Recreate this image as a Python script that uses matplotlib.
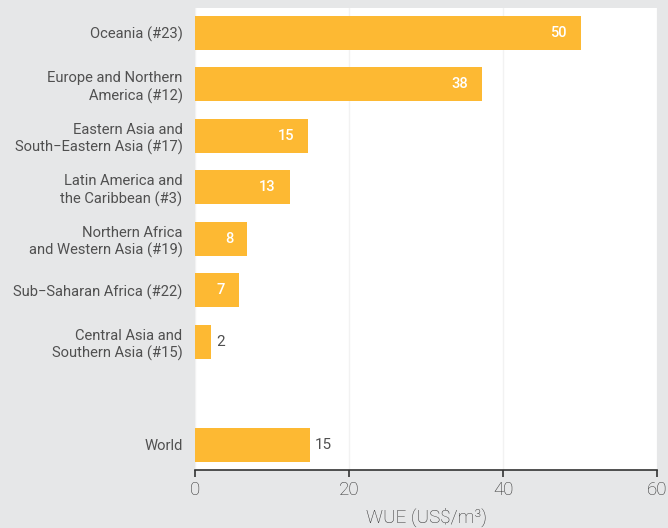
import numpy as np
import matplotlib.pyplot as plt

plt.rcParams['font.family'] = ['Roboto', 'DejaVu Sans']

regions = ['Oceania (#23)', 'Europe and Northern\nAmerica (#12)',
           'Eastern Asia and\nSouth\u2212Eastern Asia (#17)',
           'Latin America and\nthe Caribbean (#3)',
           'Northern Africa\nand Western Asia (#19)',
           'Sub\u2212Saharan Africa (#22)',
           'Central Asia and\nSouthern Asia (#15)', 'World']
wue = [50.1, 37.3, 14.7, 12.3, 6.8, 5.7, 2.1, 14.9]
labels = ['50', '38', '15', '13', '8', '7', '2', '15']
inside = [True, True, True, True, True, True, False, False]
ypos = [0, 1, 2, 3, 4, 5, 6, 8]

bg = '#E6E7E8'
bar_color = '#FDB933'
text_color = '#505050'

fig = plt.figure(figsize=(6.68, 5.28), dpi=100, facecolor=bg)
ax = fig.add_axes([0.292, 0.11, 0.6915, 0.875])
ax.set_facecolor('white')

ax.barh(ypos, wue, height=0.66, color=bar_color, zorder=2)

for y, v, lab, ins in zip(ypos, wue, labels, inside):
    if ins:
        ax.text(v - 1.8, y, lab, ha='right', va='center', color='white',
                fontsize=10.5, fontweight='medium', zorder=3)
    else:
        ax.text(v + 0.7, y, lab, ha='left', va='center', color=text_color,
                fontsize=11, zorder=3)

ax.set_xlim(0, 60)
ax.set_ylim(8.485, -0.485)
ax.set_yticks(ypos)
ax.set_yticklabels(regions, fontsize=10.6, color=text_color, linespacing=1.25)
ax.tick_params(axis='y', length=0, pad=9)
ax.set_xticks([0, 20, 40, 60])
ax.set_xticklabels(['0', '20', '40', '60'], fontweight='light')
ax.tick_params(axis='x', labelsize=13.5, colors='#333333', length=5, width=1.2,
               direction='out', pad=3)
ax.xaxis.grid(True, color='#F2F2F2', linewidth=1, zorder=0)

for s in ['top', 'right', 'left']:
    ax.spines[s].set_visible(False)
ax.spines['bottom'].set_color('#333333')
ax.spines['bottom'].set_linewidth(1.2)

ax.set_xlabel('WUE (US$/m\u00b3)', fontsize=13.5, color='#333333',
              fontweight='light', labelpad=6)

fig.savefig('out.png', dpi=100, facecolor=bg)
